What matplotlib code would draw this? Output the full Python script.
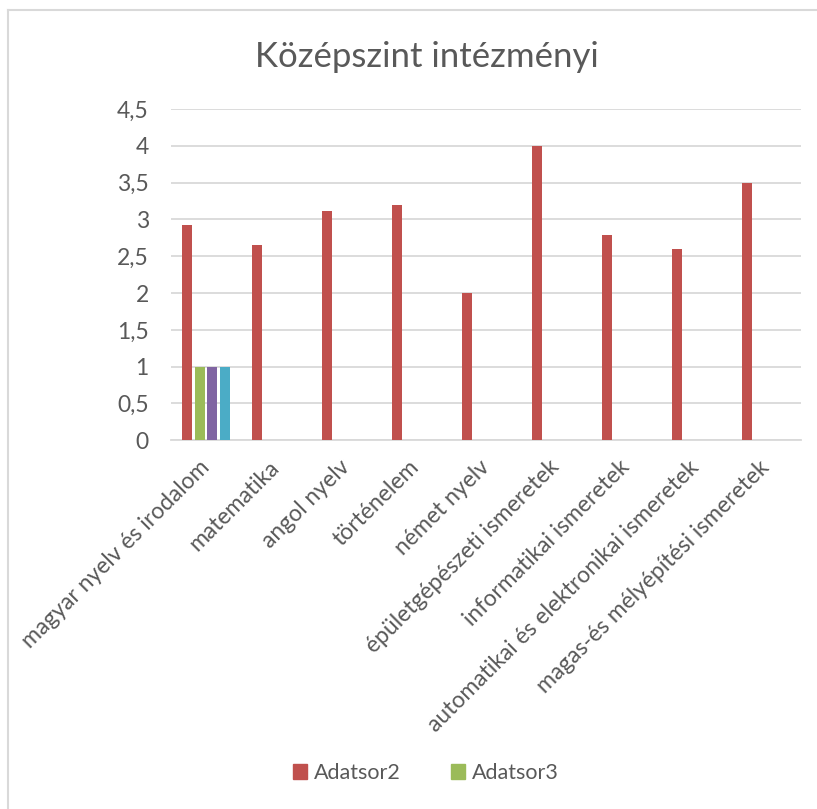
import numpy as np
import matplotlib.pyplot as plt
from matplotlib.lines import Line2D

categories = [
    'magyar nyelv és irodalom', 'matematika', 'angol nyelv', 'történelem',
    'német nyelv', 'épületgépészeti ismeretek', 'informatikai ismeretek',
    'automatikai és elektronikai ismeretek', 'magas-és mélyépítési ismeretek',
]
adatsor2 = [2.92, 2.65, 3.11, 3.19, 2.0, 4.0, 2.79, 2.6, 3.5]
adatsor3 = [1, 0, 0, 0, 0, 0, 0, 0, 0]
adatsor4 = [1, 0, 0, 0, 0, 0, 0, 0, 0]
adatsor5 = [1, 0, 0, 0, 0, 0, 0, 0, 0]
yticks = [0, 0.5, 1, 1.5, 2, 2.5, 3, 3.5, 4, 4.5]

plt.rcParams['font.family'] = ['Lato', 'DejaVu Sans']
text_col = '#595959'
grid_col = '#D9D9D9'

fig = plt.figure(figsize=(8.17, 8.09), dpi=100)
ax = fig.add_axes([171 / 817, 1 - 440.3 / 809, 630 / 817, 331.3 / 809])

x = np.arange(len(categories))
slot = 0.179
width = 0.143
series = [
    (adatsor2, '#C0504D', 'Adatsor2'),
    (adatsor3, '#9BBB59', 'Adatsor3'),
    (adatsor4, '#8064A2', None),
    (adatsor5, '#4BACC6', None),
]
for i, (vals, col, lab) in enumerate(series):
    off = (i - 1.5) * slot
    ax.bar(x + off, vals, width, color=col, label=lab, zorder=3)

ax.set_xlim(-0.5, len(categories) - 0.5)
ax.set_ylim(0, 4.5)
ax.set_yticks(yticks)
ax.set_yticklabels([('%g' % v).replace('.', ',') for v in yticks])
ax.yaxis.grid(True, color=grid_col, linewidth=1.3, zorder=0)
ax.set_xticks(x)
ax.set_xticklabels(categories, rotation=45, ha='right', va='center',
                   rotation_mode='anchor')
ax.tick_params(axis='both', length=0, colors=text_col, labelsize=16.5)
ax.tick_params(axis='y', pad=16)
ax.tick_params(axis='x', pad=17)
for s in ['top', 'right', 'left']:
    ax.spines[s].set_visible(False)
ax.spines['bottom'].set_color(grid_col)
ax.spines['bottom'].set_linewidth(1.3)

fig.text(427 / 817, 1 - 57 / 809, 'Középszint intézményi', ha='center',
         va='center', fontsize=25, color=text_col)

handles = [plt.Rectangle((0, 0), 1, 1, color='#C0504D'),
           plt.Rectangle((0, 0), 1, 1, color='#9BBB59')]
fig.legend(handles, ['Adatsor2', 'Adatsor3'], loc='center',
           bbox_to_anchor=(426 / 817, 1 - 773 / 809), ncol=2, frameon=False,
           fontsize=15.5, labelcolor=text_col, handlelength=0.65,
           handleheight=0.65, handletextpad=0.35, columnspacing=2.3)

# chart border (only top and left edges are visible)
fig.add_artist(Line2D([8 / 817, 8 / 817], [0, 1 - 10 / 809],
                      color=grid_col, linewidth=1.5))
fig.add_artist(Line2D([8 / 817, 1], [1 - 10 / 809, 1 - 10 / 809],
                      color=grid_col, linewidth=1.5))

fig.savefig('out.png', dpi=100)
